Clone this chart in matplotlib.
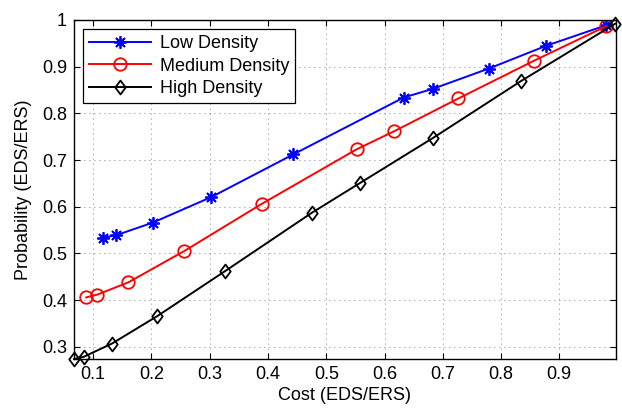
import matplotlib
matplotlib.use('Agg')
import matplotlib.pyplot as plt
from matplotlib.path import Path

plt.rcParams['font.family'] = ['Liberation Sans', 'DejaVu Sans']

# values
low_x = [0.117, 0.139, 0.202, 0.303, 0.443, 0.633, 0.684, 0.779, 0.878, 0.981]
low_y = [0.534, 0.539, 0.566, 0.621, 0.712, 0.834, 0.853, 0.896, 0.945, 0.989]

med_x = [0.088, 0.107, 0.160, 0.256, 0.389, 0.552, 0.617, 0.727, 0.857, 0.981]
med_y = [0.406, 0.412, 0.438, 0.505, 0.606, 0.723, 0.762, 0.832, 0.913, 0.987]

high_x = [0.067, 0.084, 0.132, 0.210, 0.326, 0.475, 0.558, 0.684, 0.834, 0.996]
high_y = [0.274, 0.279, 0.307, 0.366, 0.462, 0.587, 0.651, 0.748, 0.869, 0.992]

xticks = [0.1, 0.2, 0.3, 0.4, 0.5, 0.6, 0.7, 0.8, 0.9]
yticks = [0.3, 0.4, 0.5, 0.6, 0.7, 0.8, 0.9, 1.0]
ytick_labels = ['0.3', '0.4', '0.5', '0.6', '0.7', '0.8', '0.9', '1']

# MATLAB style diamond (taller than wide)
diamond = Path([(0, 1), (0.75, 0), (0, -1), (-0.75, 0), (0, 1)],
               [Path.MOVETO, Path.LINETO, Path.LINETO, Path.LINETO, Path.CLOSEPOLY])

fig = plt.figure(figsize=(6.22, 4.08), dpi=100)
ax = fig.add_axes([0.119, 0.12, 0.871, 0.831])

ax.plot(low_x, low_y, color='#0000ff', lw=1.4, marker=(8, 2, 0), ms=9,
        mew=1.3, label='Low Density')
ax.plot(med_x, med_y, color='#ff0000', lw=1.4, marker='o', ms=9,
        mfc='none', mew=1.3, label='Medium Density')
ax.plot(high_x, high_y, color='black', lw=1.4, marker=diamond, ms=10,
        mfc='none', mew=1.3, label='High Density', clip_on=False)

ax.set_xlim(0.067, 0.997)
ax.set_ylim(0.274, 1.0)
ax.set_xticks(xticks)
ax.set_xticklabels([f'{t:.1f}' for t in xticks])
ax.set_yticks(yticks)
ax.set_yticklabels(ytick_labels)

ax.tick_params(direction='in', top=True, right=True, labelsize=13,
               length=4, width=0.8, colors='black', pad=5)
ax.grid(True, color='#555555', linestyle=(0, (1, 5)), linewidth=0.6)
for s in ax.spines.values():
    s.set_linewidth(1.0)
    s.set_color('black')

ax.set_xlabel('Cost (EDS/ERS)', fontsize=13, labelpad=3)
ax.set_ylabel('Probability (EDS/ERS)', fontsize=13, labelpad=7)

leg = ax.legend(loc='upper left', fontsize=13, handlelength=3.4,
                fancybox=False, framealpha=1, edgecolor='black',
                borderaxespad=0.5, labelspacing=0.3, borderpad=0.35,
                handletextpad=0.5)
leg.get_frame().set_linewidth(0.9)

fig.savefig('out.png', dpi=100)
